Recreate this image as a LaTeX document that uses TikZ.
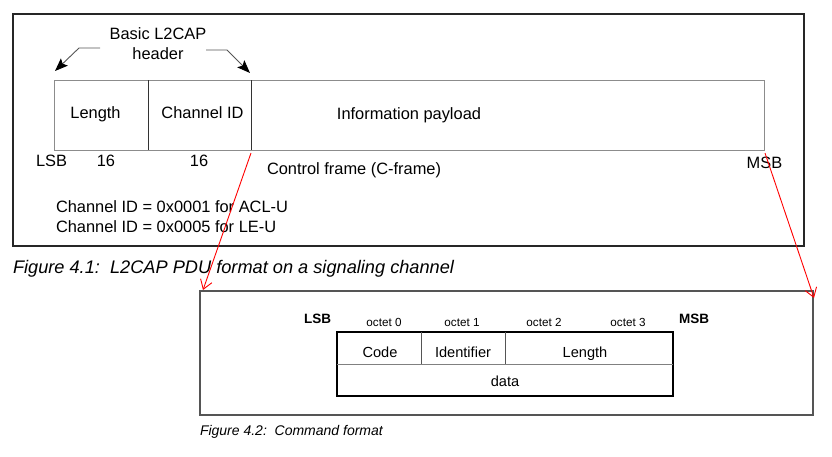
\documentclass[tikz,border=0pt]{standalone}
\usepackage{fontspec}
\setmainfont{Liberation Sans}
\usetikzlibrary{arrows.meta}
\definecolor{framegray}{HTML}{8C8C8C}
\definecolor{darkline}{HTML}{333333}
\definecolor{boxgray}{HTML}{555555}
\begin{document}
\begin{tikzpicture}[x=1pt,y=-1pt,
  txt/.style={inner sep=0pt, outer sep=0pt, anchor=base, font=\fontsize{16.4}{19}\selectfont},
  txtl/.style={txt, anchor=base west},
  figcap/.style={inner sep=0pt, outer sep=0pt, anchor=base west, font=\fontsize{18.2}{21}\selectfont\itshape},
  figcapsmall/.style={inner sep=0pt, outer sep=0pt, anchor=base west, font=\fontsize{14}{17}\selectfont\itshape},
  small/.style={inner sep=0pt, outer sep=0pt, anchor=base, font=\fontsize{11.7}{14}\selectfont},
  mid/.style={inner sep=0pt, outer sep=0pt, anchor=base, font=\fontsize{14.6}{17}\selectfont},
  boldl/.style={inner sep=0pt, outer sep=0pt, anchor=base, font=\fontsize{13.5}{16}\selectfont\bfseries},
  field/.style={inner sep=0pt, outer sep=0pt, anchor=north west, minimum height=70pt},
  cell/.style={inner sep=0pt, outer sep=0pt, anchor=north west, minimum height=32pt},
  hdrarrow/.style={draw=boxgray, line width=0.9pt, -{Stealth[length=13pt,width=10pt,inset=2.5pt,color=black,fill=black]}},
  redarrow/.style={draw=red, line width=0.9pt, -{Straight Barb[length=9pt,width=12pt]}}
]
\useasboundingbox (0,0) rectangle (832,456);

% ---------- Figure 4.1 ----------
\draw[line width=1.6pt, draw=black!85] (13,14) rectangle (804,246);

\node[field, minimum width=94pt]  (len)  at (54,80)  {};
\node[field, minimum width=103pt] (chid) at (148,80) {};
\node[field, minimum width=513pt] (pay)  at (251,80) {};
\draw[framegray, line width=1pt] (len.north west) rectangle (pay.south east);
\draw[darkline, line width=1pt] (len.north east) -- (len.south east);
\draw[darkline, line width=1pt] (chid.north east) -- (chid.south east);

\node[txt] (tlen)  at (95.5,118) {Length};
\node[txt] (tchid) at (202.5,118) {Channel ID};
\node[txt] (tpay)  at (409,119) {Information payload};

\node[txt] (basic) at (158,39) {Basic L2CAP};
\node[txt] (hdr)   at (158,59) {header};

\coordinate (la0) at (100,48);
\coordinate (la1) at (79,48);
\coordinate (la2) at (55,71);
\coordinate (ra0) at (206,50);
\coordinate (ra1) at (227,50);
\coordinate (ra2) at (250,73);
\draw[hdrarrow] (la0) -- (la1) -- (la2);
\draw[hdrarrow] (ra0) -- (ra1) -- (ra2);

\node[txt] (lsb)   at (51.5,166.5) {LSB};
\node[txt] (n16a)  at (106,166.5) {16};
\node[txt] (n16b)  at (199,166.5) {16};
\node[txtl] (cfr)  at (267,174) {Control frame (C-frame)};
\node[txt] (msb)   at (764.5,168) {MSB};

\node[txtl] (cid1) at (56,212) {Channel ID = 0x0001 for ACL-U};
\node[txtl] (cid2) at (56,232) {Channel ID = 0x0005 for LE-U};

\node[figcap] (cap1) at (13,273) {Figure 4.1:\ \ L2CAP PDU format on a signaling channel};

% ---------- Figure 4.2 ----------
\draw[boxgray, line width=1.3pt] (200,291) rectangle (813,415);

\node[cell, minimum width=84pt]  (code)  at (337,332) {};
\node[cell, minimum width=84pt]  (ident) at (421,332) {};
\node[cell, minimum width=168pt] (lenf)  at (505,332) {};
\node[cell, minimum width=336pt] (data)  at (337,364) {};
\draw[black, line width=1.2pt] (code.north west) rectangle (data.south east);
\draw[gray, line width=0.9pt] (data.north west) -- (data.north east);
\draw[boxgray, line width=0.9pt] (code.north east) -- (code.south east);
\draw[boxgray, line width=0.9pt] (ident.north east) -- (ident.south east);

\node[boldl] (lsb2) at (317.5,323) {LSB};
\node[small] (o0) at (384,326) {octet 0};
\node[small] (o1) at (462,326) {octet 1};
\node[small] (o2) at (544,326) {octet 2};
\node[small] (o3) at (628,326) {octet 3};
\node[boldl] (msb2) at (694,323) {MSB};

\node[mid] (tcode)  at (380,357) {Code};
\node[mid] (tident) at (463,357) {Identifier};
\node[mid] (tlenf)  at (585,357) {Length};
\node[mid] (tdata)  at (505,386) {data};

\node[figcapsmall] (cap2) at (200,435) {Figure 4.2:\ \ Command format};

% ---------- red arrows ----------
\coordinate (r1s) at (251,153);
\coordinate (r1e) at (203,290);
\coordinate (r2s) at (765,153);
\coordinate (r2e) at (814,298);
\draw[redarrow] (r1s) -- (r1e);
\draw[redarrow] (r2s) -- (r2e);
\end{tikzpicture}
\end{document}
